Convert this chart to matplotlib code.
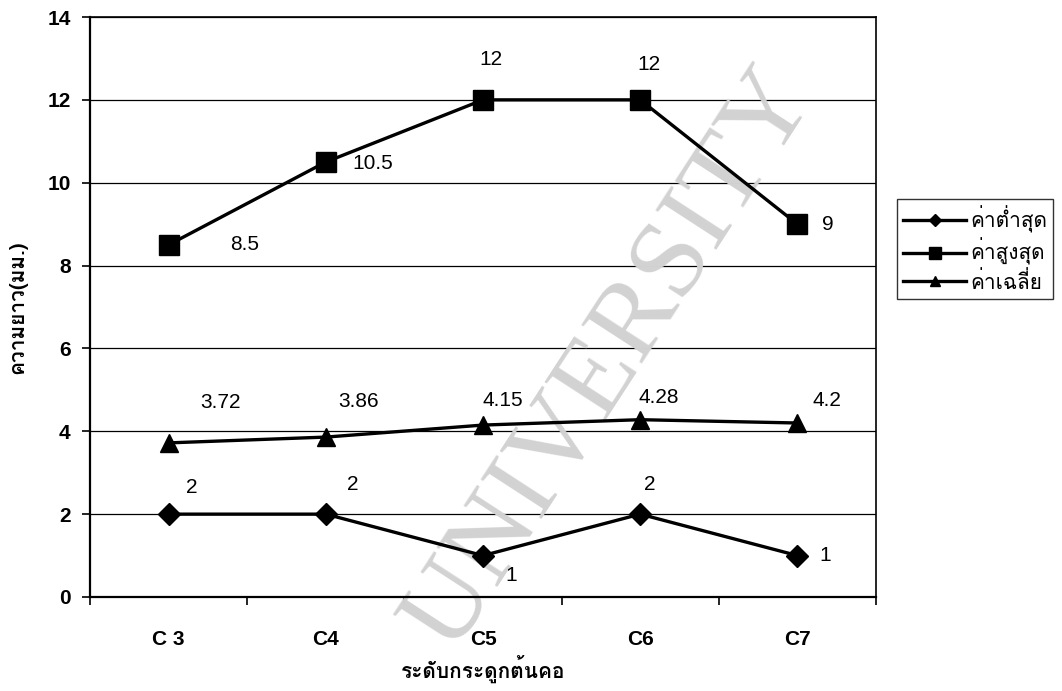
import numpy as np
import matplotlib
matplotlib.use("Agg")
import matplotlib.pyplot as plt
from matplotlib import font_manager
from matplotlib.ft2font import FT2Font

# vertebral levels and the three length series (mm)
levels = ["C 3", "C4", "C5", "C6", "C7"]
min_len = [2, 2, 1, 2, 1]
max_len = [8.5, 10.5, 12, 12, 9]
avg_len = [3.72, 3.86, 4.15, 4.28, 4.2]
series_names = ["ค่าต่ำสุด", "ค่าสูงสุด", "ค่าเฉลี่ย"]
y_ticks = [0, 2, 4, 6, 8, 10, 12, 14]
x_title = "ระดับกระดูกต้นคอ"
y_title = "ความยาว(มม.)"


def thai_family():
    # pick any installed face that actually carries Thai glyphs
    seen = set()
    for f in font_manager.fontManager.ttflist:
        if f.name in seen:
            continue
        seen.add(f.name)
        try:
            cmap = FT2Font(f.fname).get_charmap()
        except Exception:
            continue
        if 0x0E04 in cmap and 0x0E48 in cmap:
            return f.name
    return "DejaVu Sans"


thai = [thai_family(), "DejaVu Sans"]
plt.rcParams["font.family"] = ["Liberation Sans", "DejaVu Sans"]

fig = plt.figure(figsize=(10.62, 6.91), dpi=100)
ax = fig.add_axes([90 / 1062, 1 - 597 / 691, 786 / 1062, 580 / 691])
ax.patch.set_alpha(0)

x = np.arange(len(levels))
l_min, = ax.plot(x, min_len, color="black", lw=2.4, marker="D", ms=11, zorder=3)
l_max, = ax.plot(x, max_len, color="black", lw=2.4, marker="s", ms=15, zorder=3)
l_avg, = ax.plot(x, avg_len, color="black", lw=2.4, marker="^", ms=13, zorder=3)

# data labels, offsets in pixels from each marker
lab_kw = dict(textcoords="offset pixels", ha="center", va="center", fontsize=15)
min_off = [(23, 27), (27, 30), (28, -20), (10, 30), (28, 0)]
max_off = [(76, 0), (47, -1), (8, 40), (9, 35), (30, 0)]
avg_off = [(52, 40), (33, 36), (20, 25), (19, 22), (30, 23)]
for vals, offs in [(min_len, min_off), (max_len, max_off), (avg_len, avg_off)]:
    for xi, v, off in zip(x, vals, offs):
        ax.annotate(f"{v:g}", (xi, v), xytext=off, **lab_kw)

ax.set_xlim(-0.5, len(levels) - 0.5)
ax.set_ylim(0, 14)
ax.set_yticks(y_ticks)
ax.set_xticks(x)
ax.set_xticklabels(levels, fontsize=15, fontweight="bold")
ax.set_xticks(np.arange(-0.5, len(levels)), minor=True)
ax.tick_params(axis="x", which="major", length=0, pad=24)
ax.tick_params(axis="x", which="minor", length=6, width=1.2, direction="out")
ax.tick_params(axis="y", length=6, width=1.2, direction="out", pad=8, labelsize=15)
for t in ax.get_yticklabels():
    t.set_fontweight("bold")

ax.grid(axis="y", color="black", lw=0.9, zorder=1)
ax.set_axisbelow(True)
for s in ax.spines.values():
    s.set_linewidth(1.2)
ax.spines["left"].set_linewidth(1.6)
ax.spines["bottom"].set_linewidth(1.6)

ax.set_xlabel(x_title, family=thai, fontsize=15, fontweight="bold", labelpad=4)
ax.set_ylabel(y_title, family=thai, fontsize=15, fontweight="bold", labelpad=14)

leg = fig.legend([l_min, l_max, l_avg], series_names,
                 loc="center left", bbox_to_anchor=(897 / 1062, 1 - 249 / 691),
                 prop={"family": thai, "size": 15}, frameon=True, fancybox=False,
                 edgecolor="black", borderpad=0.3, handlelength=3.0,
                 handletextpad=0.2, labelspacing=0.25, markerscale=0.6,
                 borderaxespad=0)
leg.get_frame().set_linewidth(1.0)

# faint diagonal watermark, kept under the data lines
ax.text(0.663, 0.409, "UNIVERSITY", transform=ax.transAxes,
        family="Liberation Serif", fontsize=80, color="#d2d2d2",
        rotation=57, ha="center", va="center", rotation_mode="anchor",
        zorder=2, clip_on=False)

fig.savefig("out.png", dpi=100)
